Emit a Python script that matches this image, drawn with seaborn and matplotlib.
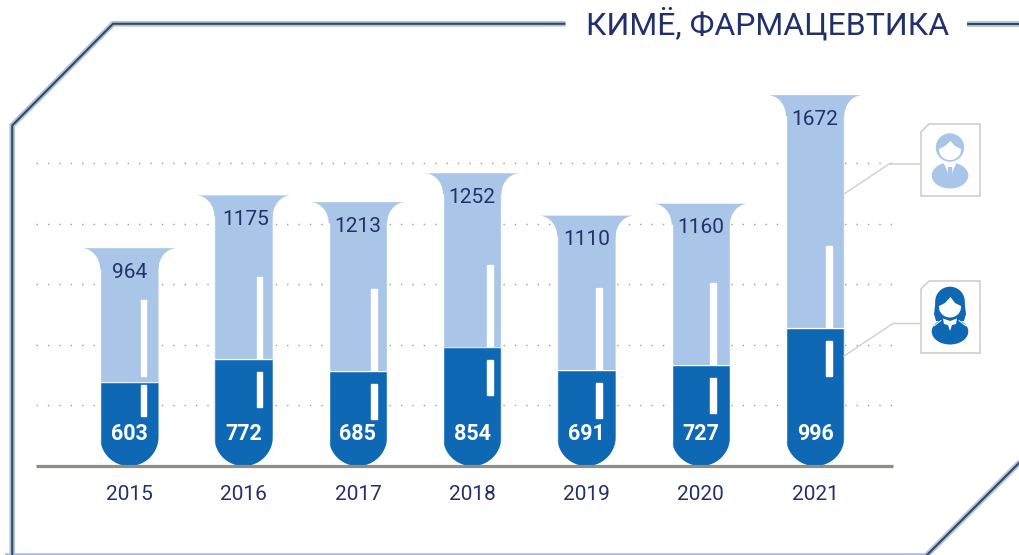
import numpy as np
import pandas as pd
import matplotlib
matplotlib.use("Agg")
import matplotlib.pyplot as plt
from matplotlib.patches import Polygon, Circle
from matplotlib.path import Path
import seaborn as sns

years = ["2015", "2016", "2017", "2018", "2019", "2020", "2021"]
women = [603, 772, 685, 854, 691, 727, 996]
men = [964, 1175, 1213, 1252, 1110, 1160, 1672]
title = "КИМЁ, ФАРМАЦЕВТИКА"

LIGHT, DARK, NAVY = "#a9c5e8", "#0f68b4", "#22316a"
GREY, BOX = "#8f8e85", "#d6d3ce"
W, H = 1020, 555
BASE_PX = 466
PX = 0.139            # pixels per data unit
PITCH = 114.3
CX0 = 129.3
TUBE_PX = 58.4

sns.set_theme(style="white")
plt.rcParams["font.family"] = ["Roboto", "DejaVu Sans"]

fig = plt.figure(figsize=(W / 100, H / 100), dpi=100, facecolor="white")

# pixel-space layer for frame, icons, connectors
bg = fig.add_axes([0, 0, 1, 1], zorder=3)
bg.set_xlim(0, W); bg.set_ylim(H, 0); bg.axis("off"); bg.patch.set_alpha(0)

# data axes
ax = fig.add_axes([36 / W, (H - BASE_PX) / H, (893 - 36) / W, BASE_PX / H], zorder=2)
ax.patch.set_alpha(0)
df = pd.DataFrame({"year": years, "women": women, "men": men})
df["total"] = df["women"] + df["men"]
u = 1 / PX
sns.barplot(data=df, x="year", y="total", color=LIGHT, saturation=1, width=TUBE_PX / PITCH, ax=ax, zorder=2)
sns.barplot(data=df, x="year", y="women", color=DARK, saturation=1, width=TUBE_PX / PITCH, ax=ax, zorder=3)
ax.set_xlim((36 - CX0) / PITCH, (893 - CX0) / PITCH)
ax.set_ylim(0, BASE_PX * u)
ax.set_xlabel(""); ax.set_ylabel("")
ax.set_yticks([60.6 * u * k for k in range(1, 6)])
ax.tick_params(axis="y", left=False, labelleft=False)
ax.tick_params(axis="x", bottom=False, pad=7.5, labelsize=15, labelcolor=NAVY)
ax.grid(axis="y", color="#a0a09a", linewidth=1.0, linestyle=(0, (1, 7.2)))
ax.set_axisbelow(True)
for s in ["left", "right", "top"]:
    ax.spines[s].set_visible(False)
ax.spines["bottom"].set_color(GREY)
ax.spines["bottom"].set_linewidth(2.3)
ax.spines["bottom"].set_capstyle("butt")
ax.spines["bottom"].set_zorder(6)

# rounded test-tube bottoms: clip seaborn's bars to their own geometry
half = TUBE_PX / PITCH / 2
r_y = TUBE_PX / 2 * u
t = np.linspace(np.pi, 2 * np.pi, 40)
for bar in ax.patches:
    cx = bar.get_x() + bar.get_width() / 2
    top = bar.get_height()
    xs = np.r_[cx - half, cx + half * np.cos(t), cx + half, cx - half]
    ys = np.r_[top, r_y + r_y * np.sin(t), top, top]
    bar.set_clip_path(Path(np.c_[xs, ys]), ax.transData)

# flared mouth and white highlights
fl_x = 18.5 / PITCH
fl_y = 21 * u
shift_px = [14, 16, 16, 18, 12.5, 12, 14]
for i, (wv, tot) in enumerate(zip(df["women"], df["total"])):
    q = np.linspace(0, np.pi / 2, 24)
    lx = i - half - fl_x + fl_x * np.sin(q)
    ly = tot - fl_y + fl_y * np.cos(q)
    rx = i + half + fl_x - fl_x * np.sin(q)
    pts = np.r_[np.c_[lx, ly], [[i, tot - fl_y]], np.c_[rx[::-1], ly[::-1]]]
    ax.add_patch(Polygon(pts, closed=True, fc=LIGHT, ec="none", zorder=2))
    hx = i + shift_px[i] / PITCH
    hw = 5.5 / PITCH
    if i == 0:      # the first tube's highlight breaks around the level
        ax.bar(hx, 76 * u, bottom=wv + 6 * u, width=hw, color="white", zorder=4)
        ax.bar(hx, 31 * u, bottom=wv - 34 * u, width=hw, color="white", zorder=4)
    else:
        ax.bar(hx, 82 * u, bottom=wv, width=hw, color="white", zorder=2.5)
        ax.bar(hx, 35 * u, bottom=wv - 48 * u, width=hw, color="white", zorder=4)
    ax.text(i + (2.5 / PITCH if i == 1 else 0), tot - 24 * u, str(men[i]), ha="center", va="center",
            color=NAVY, fontsize=15, zorder=5)
    ax.text(i, 32.5 * u, str(wv), ha="center", va="center", color="white",
            fontsize=15.5, fontweight="bold", zorder=5)

# frame
frame_parts = [
    ([565.5, 113, 12.2, 12.2], [23.8, 23.8, 125.5, 562]),
    ([967, 1025], [23.8, 23.8]),
    ([925, 1025], [557, 457]),
    ([5, 927], [555.6, 555.6]),
]
for xs, ys in frame_parts:
    bg.plot(xs, ys, color=LIGHT, lw=4.1, solid_joinstyle="miter", solid_capstyle="butt", zorder=1)
    bg.plot(xs, ys, color="#3d4656", lw=1.5, solid_joinstyle="miter", solid_capstyle="butt", zorder=2)
bg.text(767.5, 24, title, ha="center", va="center", color=NAVY, fontsize=23)


def box(top, color=BOX):
    l, r, b = 921, 980, top + 72
    bg.add_patch(Polygon([(l, top + 8), (l + 8, top), (r, top), (r, b), (l, b)], closed=True,
                         fc="white", ec=color, lw=1.3, zorder=3))


def body(cy, color):
    th = np.linspace(0, 2 * np.pi, 60)
    xs = 950 + 18.3 * np.cos(th)
    ys = cy + 13 * np.sin(th)
    bg.add_patch(Polygon(np.c_[xs, ys], closed=True, fc=color, ec="none", zorder=4))


def face(cy, hair_top, rx=11, ry=10):
    th = np.linspace(0, np.pi, 30)
    low = np.c_[950 + rx * np.cos(th), cy + ry * np.sin(th)]
    hairline = [(939, cy - 1), (945, cy - 4), (950.5, hair_top), (955, cy - 4), (961, cy - 1)]
    bg.add_patch(Polygon(np.r_[low, hairline], closed=True, fc="white", ec="none", zorder=7))


# men's icon
box(124)
bg.plot([844, 889, 921], [194, 164, 164], color=BOX, lw=1.1, zorder=2)
body(175.5, LIGHT)
bg.add_patch(Polygon([(942, 160), (958, 160), (954, 168), (950, 181), (946, 168)], fc="white", ec="none", zorder=5))
bg.add_patch(Polygon([(948, 167), (952, 167), (953, 179), (950, 183), (947, 179)], fc=LIGHT, ec="none", zorder=6))
bg.add_patch(Circle((950, 147.5), 14.2, fc=LIGHT, ec="none", zorder=6))
face(150, 141)

# women's icon
box(281)
bg.plot([844, 893, 921], [356, 323.5, 323.5], color=BOX, lw=1.1, zorder=2)
body(331.5, DARK)
bg.add_patch(Circle((950, 301.5), 14.8, fc=DARK, ec="none", zorder=5))
bg.add_patch(Polygon([(935.5, 302), (934, 314), (936, 321), (964, 321), (966, 314), (964.5, 302)],
                     fc=DARK, ec="none", zorder=5))
face(307, 297, rx=11, ry=10.5)
bg.add_patch(Polygon([(943, 318.5), (950, 321), (957, 318.5), (956, 324), (952, 325), (950, 331), (948, 325), (944, 324)],
                     fc="white", ec="none", zorder=8))
bg.plot([934, 941], [326, 320.5], color="white", lw=0.7, zorder=8)
bg.plot([966, 959], [326, 320.5], color="white", lw=0.7, zorder=8)

fig.savefig("out.png", dpi=100)
